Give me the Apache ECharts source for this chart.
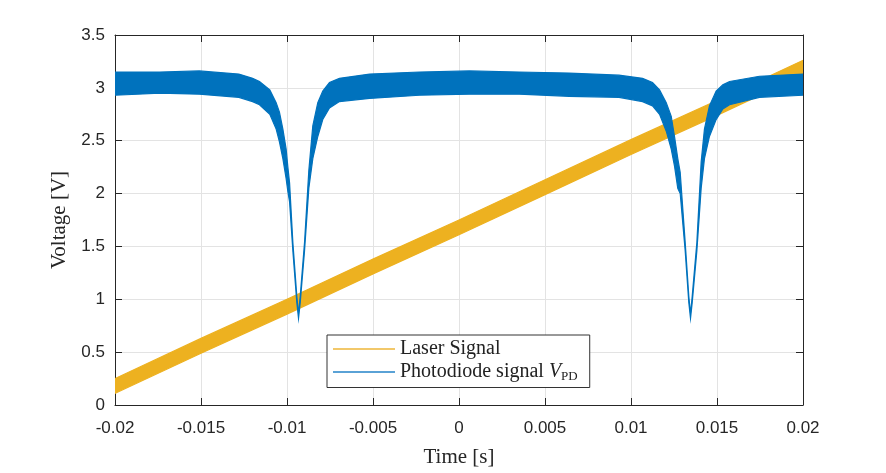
<!DOCTYPE html>
<html>
<head>
<meta charset="utf-8">
<script src="https://cdn.jsdelivr.net/npm/echarts@6/dist/echarts.min.js"></script>
<style>
  html, body { margin: 0; padding: 0; background: #fff; }
  #chart { width: 886px; height: 473px; }
</style>
</head>
<body>
<div id="chart"></div>
<script>
// laser ramp (lower / upper edge)
var laserTime  = [-0.02, -0.015, -0.01, -0.005, 0, 0.005, 0.01, 0.015, 0.02];
var laserLower = [0.11, 0.49, 0.86, 1.24, 1.61, 1.99, 2.37, 2.74, 3.12];
var laserUpper = [0.25, 0.63, 1.00, 1.38, 1.75, 2.13, 2.51, 2.88, 3.26];

// photodiode signal, noisy band edges
var pdTime = [-0.02, -0.0174, -0.0151, -0.0128, -0.0120, -0.0116, -0.0110, -0.01063, -0.01044, -0.01024,
  -0.01005, -0.00995, -0.00985, -0.00966, -0.00943, -0.00933, -0.00923, -0.00898, -0.00873, -0.0085,
  -0.00821, -0.00792, -0.00753, -0.00695, -0.0052, -0.0023, 0.0006, 0.0035, 0.0064, 0.0093,
  0.01067, 0.01125, 0.01166, 0.01205, 0.01234, 0.01253, 0.01272, 0.01286, 0.01315, 0.01336,
  0.01346, 0.01356, 0.01383, 0.01408, 0.01427, 0.01456, 0.01495, 0.01534, 0.01573, 0.01747, 0.02];
var pdLower = [2.93, 2.95, 2.94, 2.91, 2.87, 2.84, 2.75, 2.61, 2.49, 2.33,
  2.14, 2.02, 1.92, 1.46, 0.97, 0.82, 0.97, 1.46, 2.05, 2.33,
  2.54, 2.70, 2.81, 2.87, 2.90, 2.93, 2.94, 2.94, 2.92, 2.91,
  2.87, 2.83, 2.75, 2.59, 2.42, 2.26, 2.05, 2.00, 1.46, 0.97,
  0.82, 0.97, 1.46, 2.05, 2.33, 2.54, 2.70, 2.80, 2.84, 2.91, 2.93];
var pdUpper = [3.15, 3.15, 3.16, 3.13, 3.09, 3.06, 2.98, 2.86, 2.77, 2.61,
  2.42, 2.25, 2.10, 1.54, 1.03, 0.86, 1.03, 1.54, 2.22, 2.64,
  2.86, 2.97, 3.05, 3.09, 3.13, 3.15, 3.16, 3.15, 3.14, 3.12,
  3.09, 3.05, 2.98, 2.86, 2.73, 2.54, 2.33, 2.20, 1.54, 1.03,
  0.86, 1.03, 1.54, 2.30, 2.61, 2.83, 2.97, 3.03, 3.06, 3.11, 3.13];

var seriesNames = ['Laser Signal', 'Photodiode signal V_PD'];

var axisColor = '#262626';
var gridColor = '#e3e3e3';

function bandSeries(name, t, lo, hi, color) {
  return {
    name: name,
    type: 'custom',
    silent: true,
    clip: true,
    itemStyle: { color: color },
    data: [[t[0], lo[0]]],
    renderItem: function (params, api) {
      var pts = [];
      for (var i = 0; i < t.length; i++) pts.push(api.coord([t[i], hi[i]]));
      for (var j = t.length - 1; j >= 0; j--) pts.push(api.coord([t[j], lo[j]]));
      return {
        type: 'polygon',
        shape: { points: pts },
        style: { fill: color, stroke: color, lineWidth: 1.2 }
      };
    }
  };
}

var myChart = echarts.init(document.getElementById('chart'));

var option = {
  backgroundColor: '#ffffff',
  animation: false,
  grid: { left: 115, right: 83, top: 35, bottom: 65 },
  legend: {
    orient: 'vertical',
    left: 327,
    top: 335,
    padding: [4, 12, 4, 6],
    itemGap: 3,
    itemWidth: 62,
    itemHeight: 2,
    icon: 'rect',
    borderColor: '#333',
    borderWidth: 1,
    backgroundColor: '#fff',
    data: [
      { name: seriesNames[0], itemStyle: { color: '#f2c86a' } },
      { name: seriesNames[1], itemStyle: { color: '#5aa2d6' } }
    ],
    formatter: function (name) {
      if (name === seriesNames[1]) {
        return '{n|Photodiode signal }{i|V}{s|PD}';
      }
      return '{n|' + name + '}';
    },
    textStyle: {
      color: '#222',
      fontFamily: 'Liberation Serif',
      fontSize: 20,
      rich: {
        n: { fontFamily: 'Liberation Serif', fontSize: 20, lineHeight: 23, color: '#222' },
        i: { fontFamily: 'Liberation Serif', fontStyle: 'italic', fontSize: 20, lineHeight: 23, color: '#222' },
        s: { fontFamily: 'Liberation Serif', fontSize: 13, lineHeight: 13, verticalAlign: 'bottom', color: '#222' }
      }
    }
  },
  xAxis: [{
    type: 'value',
    min: -0.02,
    max: 0.02,
    interval: 0.005,
    name: 'Time [s]',
    nameLocation: 'middle',
    nameGap: 42,
    nameTextStyle: { fontFamily: 'Liberation Serif', fontSize: 21, color: axisColor },
    axisLine: { onZero: false, lineStyle: { color: axisColor, width: 1 } },
    axisTick: { inside: true, length: 7, lineStyle: { color: axisColor } },
    axisLabel: {
      margin: 15,
      fontFamily: 'Liberation Sans',
      fontSize: 17,
      color: axisColor,
      formatter: function (v) { return String(+v.toFixed(3)); }
    },
    splitLine: { show: true, lineStyle: { color: gridColor, width: 1 } }
  }, {
    type: 'value',
    position: 'top',
    min: -0.02,
    max: 0.02,
    interval: 0.005,
    axisLine: { onZero: false, lineStyle: { color: axisColor, width: 1 } },
    axisTick: { inside: true, length: 7, lineStyle: { color: axisColor } },
    axisLabel: { show: false },
    splitLine: { show: false }
  }],
  yAxis: [{
    type: 'value',
    min: 0,
    max: 3.5,
    interval: 0.5,
    name: 'Voltage [V]',
    nameLocation: 'middle',
    nameGap: 42,
    nameTextStyle: { fontFamily: 'Liberation Serif', fontSize: 21, color: axisColor },
    axisLine: { show: true, onZero: false, lineStyle: { color: axisColor, width: 1 } },
    axisTick: { show: true, inside: true, length: 7, lineStyle: { color: axisColor } },
    axisLabel: {
      margin: 10,
      fontFamily: 'Liberation Sans',
      fontSize: 17,
      color: axisColor,
      formatter: function (v) { return String(+v.toFixed(1)); }
    },
    splitLine: { show: true, lineStyle: { color: gridColor, width: 1 } }
  }, {
    type: 'value',
    position: 'right',
    min: 0,
    max: 3.5,
    interval: 0.5,
    axisLine: { show: true, onZero: false, lineStyle: { color: axisColor, width: 1 } },
    axisTick: { show: true, inside: true, length: 7, lineStyle: { color: axisColor } },
    axisLabel: { show: false },
    splitLine: { show: false }
  }],
  series: [
    bandSeries(seriesNames[0], laserTime, laserLower, laserUpper, '#EDB120'),
    bandSeries(seriesNames[1], pdTime, pdLower, pdUpper, '#0072BD')
  ]
};

myChart.setOption(option);
</script>
</body>
</html>
